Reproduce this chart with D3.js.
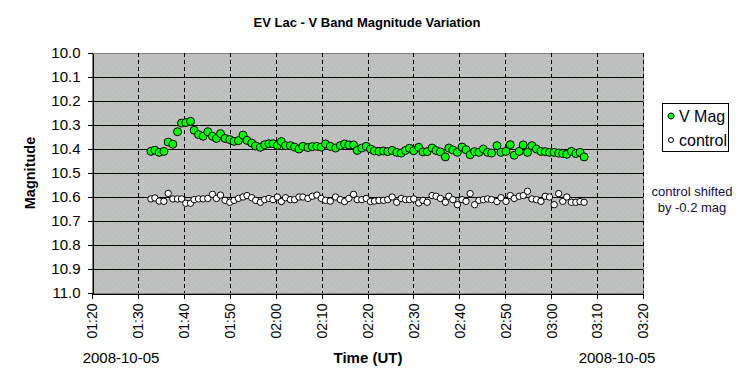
<!DOCTYPE html>
<html>
<head>
<meta charset="utf-8">
<script src="https://cdn.jsdelivr.net/npm/d3@7"></script>
<style>
body { margin: 0; background: #fff; }
svg text { font-family: "Liberation Sans", Arial, sans-serif; }
</style>
</head>
<body>
<svg id="chart" width="750" height="384"></svg>
<script>
var obsDate = "2008-10-05";
var xStart = "01:20", xEnd = "03:20";

// minutes after 00:00 UT
var obsMinutes = [92.83, 93.70, 94.63, 95.65, 96.59, 97.61, 98.63, 99.50, 100.43, 101.46,
    102.24, 103.20, 104.20, 105.22, 106.24, 107.11, 107.98, 108.98, 110.00, 110.93,
    111.89, 112.89, 113.76, 114.78, 115.65, 116.67, 117.61, 118.54, 119.41, 120.37,
    121.24, 122.17, 123.20, 124.13, 125.07, 125.93, 127.02, 127.98, 128.98, 129.93,
    130.87, 131.89, 133.04, 134.07, 135.00, 135.93, 136.96, 137.76, 138.76, 139.72,
    140.65, 141.52, 142.50, 143.48, 144.41, 145.37, 146.37, 147.33, 148.26, 149.13,
    150.07, 151.15, 152.07, 153.00, 154.07, 154.93, 155.87, 156.96, 157.72, 158.59,
    159.57, 160.59, 161.46, 162.35, 163.33, 164.26, 165.22, 166.15, 167.02, 168.20,
    169.07, 170.15, 171.09, 171.96, 173.04, 173.91, 174.85, 175.80, 176.80, 177.76,
    178.70, 179.63, 180.65, 181.63, 182.52, 183.41, 184.41, 185.37, 186.30, 187.17];

var vMag = [10.410, 10.405, 10.414, 10.410, 10.371, 10.380, 10.328, 10.292, 10.290, 10.285,
    10.322, 10.340, 10.347, 10.328, 10.347, 10.356, 10.336, 10.356, 10.361, 10.368,
    10.365, 10.342, 10.364, 10.375, 10.387, 10.393, 10.382, 10.378, 10.378, 10.385,
    10.369, 10.386, 10.386, 10.392, 10.400, 10.389, 10.394, 10.390, 10.389, 10.392,
    10.379, 10.389, 10.396, 10.386, 10.379, 10.383, 10.383, 10.406, 10.396, 10.389,
    10.400, 10.408, 10.410, 10.408, 10.411, 10.406, 10.414, 10.417, 10.406, 10.397,
    10.407, 10.393, 10.412, 10.411, 10.396, 10.406, 10.412, 10.433, 10.396, 10.404,
    10.414, 10.392, 10.403, 10.424, 10.411, 10.414, 10.400, 10.414, 10.417, 10.386,
    10.414, 10.410, 10.382, 10.426, 10.410, 10.383, 10.414, 10.386, 10.400, 10.410,
    10.411, 10.414, 10.414, 10.417, 10.419, 10.422, 10.410, 10.419, 10.414, 10.433];

// already shifted by -0.2 mag
var controlMag = [10.608, 10.604, 10.617, 10.618, 10.585, 10.608, 10.608, 10.608, 10.626, 10.626,
    10.611, 10.608, 10.608, 10.606, 10.589, 10.606, 10.592, 10.614, 10.622, 10.614,
    10.606, 10.600, 10.594, 10.603, 10.614, 10.622, 10.611, 10.606, 10.611, 10.600,
    10.619, 10.603, 10.611, 10.611, 10.600, 10.600, 10.606, 10.597, 10.592, 10.606,
    10.614, 10.617, 10.600, 10.611, 10.619, 10.606, 10.589, 10.611, 10.611, 10.606,
    10.619, 10.617, 10.614, 10.614, 10.611, 10.600, 10.622, 10.606, 10.611, 10.611,
    10.608, 10.625, 10.614, 10.622, 10.594, 10.597, 10.606, 10.622, 10.597, 10.611,
    10.632, 10.611, 10.618, 10.586, 10.632, 10.614, 10.611, 10.608, 10.611, 10.619,
    10.603, 10.618, 10.594, 10.606, 10.597, 10.594, 10.576, 10.608, 10.611, 10.618,
    10.597, 10.600, 10.632, 10.586, 10.618, 10.600, 10.622, 10.622, 10.619, 10.622];

var yTicks = [10.0, 10.1, 10.2, 10.3, 10.4, 10.5, 10.6, 10.7, 10.8, 10.9, 11.0];

var parseTime = d3.utcParse("%Y-%m-%d %H:%M");
var t0 = parseTime(obsDate + " 00:00");
function toDate(m) { return new Date(t0.getTime() + m * 60000); }

var svg = d3.select("#chart");
var plotL = 92, plotR = 643, plotT = 53, plotB = 293;

var x = d3.scaleUtc()
    .domain([parseTime(obsDate + " " + xStart), parseTime(obsDate + " " + xEnd)])
    .range([plotL, plotR]);
var y = d3.scaleLinear()
    .domain([10.0, 11.0])
    .range([plotT, plotB]);
var xTicks = x.ticks(d3.utcMinute.every(10));

// dotted grey plot background
var pat = svg.append("defs").append("pattern")
    .attr("id", "dots")
    .attr("width", 6).attr("height", 6)
    .attr("patternUnits", "userSpaceOnUse");
pat.append("rect").attr("width", 6).attr("height", 6).attr("fill", "#c0c0c0");
pat.append("rect").attr("x", 1).attr("y", 1).attr("width", 1).attr("height", 1).attr("fill", "#9ec49e");
pat.append("rect").attr("x", 4).attr("y", 4).attr("width", 1).attr("height", 1).attr("fill", "#a8c0a8");

svg.append("rect")
    .attr("x", plotL + 0.5).attr("y", plotT + 0.5)
    .attr("width", plotR - plotL).attr("height", plotB - plotT)
    .attr("fill", "url(#dots)")
    .attr("stroke", "#808080")
    .attr("shape-rendering", "crispEdges");

// horizontal grid
svg.append("g")
    .selectAll("line")
    .data(yTicks.slice(1, -1))
    .enter()
    .append("line")
    .attr("x1", plotL).attr("x2", plotR)
    .attr("y1", function(d) { return Math.round(y(d)) + 0.5; })
    .attr("y2", function(d) { return Math.round(y(d)) + 0.5; })
    .attr("stroke", "#000")
    .attr("shape-rendering", "crispEdges");

// vertical dashed grid
svg.append("g")
    .selectAll("line")
    .data(xTicks.slice(1))
    .enter()
    .append("line")
    .attr("x1", function(d) { return Math.round(x(d)) + 0.5; })
    .attr("x2", function(d) { return Math.round(x(d)) + 0.5; })
    .attr("y1", plotT).attr("y2", plotB)
    .attr("stroke", "#000")
    .attr("stroke-dasharray", "4,3")
    .attr("shape-rendering", "crispEdges");

// axes
var yAxis = d3.axisLeft(y)
    .tickValues(yTicks)
    .tickFormat(d3.format(".1f"))
    .tickSize(5).tickSizeOuter(0)
    .tickPadding(7);
var gy = svg.append("g")
    .attr("transform", "translate(" + (plotL + 0.5) + ",0)")
    .call(yAxis);
gy.selectAll("text").attr("font-size", "15px").attr("fill", "#000");

var xAxis = d3.axisBottom(x)
    .tickValues(xTicks)
    .tickFormat(d3.utcFormat("%H:%M"))
    .tickSize(5).tickSizeOuter(0);
var gx = svg.append("g")
    .attr("transform", "translate(0," + (plotB + 0.5) + ")")
    .call(xAxis);
gx.selectAll("text")
    .attr("font-size", "14px")
    .attr("fill", "#000")
    .attr("transform", "rotate(-90)")
    .attr("text-anchor", "end")
    .attr("x", -10)
    .attr("y", 0)
    .attr("dy", "0.35em");
svg.selectAll(".domain, .tick line").attr("stroke", "#000").attr("shape-rendering", "crispEdges");
svg.selectAll("text").attr("font-family", null);

// points
var vData = obsMinutes.map(function(m, i) { return { t: toDate(m), mag: vMag[i] }; });
var cData = obsMinutes.map(function(m, i) { return { t: toDate(m), mag: controlMag[i] }; });

svg.append("g")
    .selectAll("circle")
    .data(cData)
    .enter()
    .append("circle")
    .attr("cx", function(d) { return x(d.t); })
    .attr("cy", function(d) { return y(d.mag); })
    .attr("r", 3.2)
    .attr("fill", "#fff")
    .attr("stroke", "#000")
    .attr("stroke-width", 1);

svg.append("g")
    .selectAll("circle")
    .data(vData)
    .enter()
    .append("circle")
    .attr("cx", function(d) { return x(d.t); })
    .attr("cy", function(d) { return y(d.mag); })
    .attr("r", 4)
    .attr("fill", "#00ff00")
    .attr("stroke", "#000")
    .attr("stroke-width", 1);

// titles
svg.append("text")
    .attr("x", 367).attr("y", 27)
    .attr("text-anchor", "middle")
    .attr("font-size", "13px").attr("font-weight", "bold")
    .text("EV Lac - V Band Magnitude Variation");

svg.append("text")
    .attr("transform", "translate(35,173) rotate(-90)")
    .attr("text-anchor", "middle")
    .attr("font-size", "14.5px").attr("font-weight", "bold")
    .text("Magnitude");

svg.append("text")
    .attr("x", 368).attr("y", 363)
    .attr("text-anchor", "middle")
    .attr("font-size", "15px").attr("font-weight", "bold")
    .text("Time (UT)");

svg.append("text")
    .attr("x", 121).attr("y", 363)
    .attr("text-anchor", "middle")
    .attr("font-size", "15px")
    .text(obsDate);
svg.append("text")
    .attr("x", 617).attr("y", 363)
    .attr("text-anchor", "middle")
    .attr("font-size", "15px")
    .text(obsDate);

// legend
var legend = svg.append("g");
legend.append("rect")
    .attr("x", 662.5).attr("y", 103.5)
    .attr("width", 66).attr("height", 48)
    .attr("fill", "#fff").attr("stroke", "#000");
var legendItems = [
    { name: "V Mag", fill: "#00ff00", r: 3, cy: 116 },
    { name: "control", fill: "#fff", r: 2.5, cy: 140 }
];
legend.selectAll("circle")
    .data(legendItems)
    .enter()
    .append("circle")
    .attr("cx", 671).attr("cy", function(d) { return d.cy; })
    .attr("r", function(d) { return d.r; })
    .attr("fill", function(d) { return d.fill; })
    .attr("stroke", "#000");
legend.selectAll("text")
    .data(legendItems)
    .enter()
    .append("text")
    .attr("x", 679).attr("y", function(d) { return d.cy + 5.5; })
    .attr("font-size", "16px")
    .attr("fill", "#000020")
    .text(function(d) { return d.name; });

svg.append("text")
    .attr("x", 692).attr("y", 196)
    .attr("text-anchor", "middle")
    .attr("font-size", "13px")
    .attr("fill", "#101040")
    .text("control shifted");
svg.append("text")
    .attr("x", 692).attr("y", 212)
    .attr("text-anchor", "middle")
    .attr("font-size", "13px")
    .attr("fill", "#101040")
    .text("by -0.2 mag");
</script>
</body>
</html>
